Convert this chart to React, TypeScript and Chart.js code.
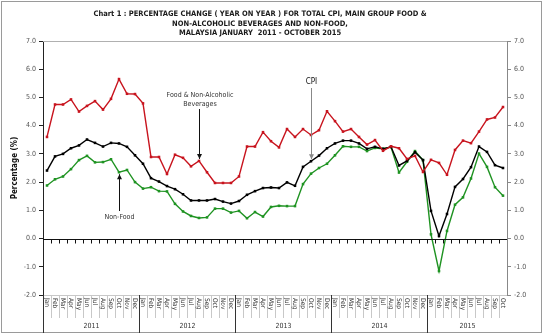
import { useEffect, useRef } from "react";
import { Chart, registerables } from "chart.js";

Chart.register(...registerables);

const monthNames = ["Jan", "Feb", "Mar", "Apr", "May", "Jun", "Jul", "Aug", "Sep", "Oct", "Nov", "Dec"];
const yearLabels = ["2011", "2012", "2013", "2014", "2015"];
const monthsPerYear = [12, 12, 12, 12, 10];

const categories: string[] = [];
yearLabels.forEach((yr, yi) => {
  for (let m = 0; m < monthsPerYear[yi]; m++) categories.push(monthNames[m] + " " + yr);
});

const foodValues = [
  3.6, 4.75, 4.75, 4.93, 4.5, 4.7, 4.87, 4.57, 4.95, 5.65, 5.13, 5.12,
  4.79, 2.89, 2.89, 2.29, 2.97, 2.86, 2.56, 2.75, 2.35, 1.97, 1.97, 1.97,
  2.2, 3.26, 3.26, 3.77, 3.45, 3.23, 3.88, 3.6, 3.88, 3.67, 3.84, 4.51,
  4.16, 3.79, 3.88, 3.6, 3.33, 3.49, 3.11, 3.27, 3.2, 2.82, 2.93, 2.36,
  2.79, 2.68, 2.26, 3.14, 3.47, 3.38, 3.79, 4.22, 4.29, 4.66,
];

const cpiValues = [
  2.41, 2.91, 3.0, 3.2, 3.3, 3.51, 3.39, 3.26, 3.39, 3.37, 3.25, 2.95,
  2.65, 2.14, 2.02, 1.86, 1.75, 1.57, 1.35, 1.35, 1.35, 1.4, 1.31, 1.24,
  1.33, 1.55, 1.68, 1.79, 1.81, 1.79, 1.99, 1.87, 2.54, 2.74, 2.94, 3.2,
  3.37, 3.47, 3.47, 3.37, 3.18, 3.25, 3.18, 3.25, 2.59, 2.75, 3.06, 2.78,
  0.98, 0.09, 0.87, 1.83, 2.11, 2.53, 3.26, 3.07, 2.6, 2.5,
];

const nonFoodValues = [
  1.88, 2.1, 2.2, 2.46, 2.78, 2.93, 2.7, 2.71, 2.81, 2.35, 2.43, 2.0,
  1.77, 1.82, 1.68, 1.67, 1.23, 0.96, 0.8, 0.73, 0.75, 1.06, 1.06, 0.92,
  0.98, 0.72, 0.94, 0.78, 1.12, 1.16, 1.15, 1.15, 1.93, 2.3, 2.5, 2.65,
  2.95, 3.27, 3.25, 3.25, 3.1, 3.21, 3.18, 3.24, 2.34, 2.72, 3.1, 2.78,
  0.15, -1.15, 0.27, 1.2, 1.46, 2.13, 3.01, 2.54, 1.82, 1.52,
];

const titleLines = [
  "Chart 1 : PERCENTAGE CHANGE ( YEAR ON YEAR ) FOR TOTAL CPI, MAIN GROUP FOOD &",
  "NON-ALCOHOLIC BEVERAGES AND NON-FOOD,",
  "MALAYSIA JANUARY  2011 - OCTOBER 2015",
];

const FONT = "'DejaVu Sans Condensed', 'Liberation Sans Narrow', 'DejaVu Sans', sans-serif";

const overlay = {
  id: "overlay",
  afterDraw(chart: any) {
    const ctx = chart.ctx as CanvasRenderingContext2D;
    const a = chart.chartArea;
    const xs = chart.scales.x;
    const ys = chart.scales.y;
    const n = categories.length;
    const px = (i: number) => xs.getPixelForValue(i);
    const step = px(1) - px(0);
    ctx.save();

    // outer border
    ctx.strokeStyle = "#9a9a9a";
    ctx.lineWidth = 1;
    ctx.strokeRect(1.5, 1.5, 540, 331);

    // title
    ctx.fillStyle = "#1a1a1a";
    ctx.textAlign = "center";
    ctx.textBaseline = "middle";
    ctx.font = "bold 7.5px " + FONT;
    const tys = [14, 24, 33.5];
    titleLines.forEach((t, i) => ctx.fillText(t, 260, tys[i]));

    // top line
    ctx.strokeStyle = "#b0b0b0";
    ctx.beginPath();
    ctx.moveTo(a.left, a.top + 0.5);
    ctx.lineTo(a.right, a.top + 0.5);
    ctx.stroke();

    // zero line with ticks
    const y0 = Math.round(ys.getPixelForValue(0)) + 0.5;
    ctx.strokeStyle = "#111";
    ctx.beginPath();
    ctx.moveTo(a.left, y0);
    ctx.lineTo(a.right, y0);
    for (let i = 0; i < n - 1; i++) {
      const xb = Math.round(px(i) + step / 2) + 0.5;
      ctx.moveTo(xb, y0);
      ctx.lineTo(xb, y0 + 4);
    }
    ctx.stroke();

    // bottom table
    const b = a.bottom;
    ctx.strokeStyle = "#c8c8c8";
    ctx.beginPath();
    ctx.moveTo(a.left, b + 0.5);
    ctx.lineTo(a.right, b + 0.5);
    for (let i = 0; i < n - 1; i++) {
      const xb = Math.round(px(i) + step / 2) + 0.5;
      ctx.moveTo(xb, b);
      ctx.lineTo(xb, b + 23);
    }
    ctx.stroke();

    // year separators
    ctx.strokeStyle = "#333";
    ctx.beginPath();
    let idx = 0;
    const bounds: number[] = [Math.round(a.left) + 0.5];
    monthsPerYear.forEach((m) => {
      idx += m;
      const xb = idx < n ? Math.round(px(idx - 1) + step / 2) + 0.5 : Math.round(a.right) + 0.5;
      bounds.push(xb);
    });
    bounds.forEach((xb, i) => {
      if (i === bounds.length - 1) return;
      ctx.moveTo(xb, b);
      ctx.lineTo(xb, 333);
    });
    ctx.stroke();

    // month labels
    ctx.fillStyle = "#333";
    ctx.font = "6.5px " + FONT;
    ctx.textAlign = "left";
    ctx.textBaseline = "middle";
    for (let i = 0; i < n; i++) {
      const lbl = categories[i].split(" ")[0];
      ctx.save();
      ctx.translate(px(i), b + 3);
      ctx.rotate(Math.PI / 2);
      ctx.fillText(lbl, 0, 0);
      ctx.restore();
    }

    // year labels
    ctx.font = "7px " + FONT;
    ctx.textAlign = "center";
    ctx.fillStyle = "#333";
    yearLabels.forEach((yr, i) => {
      ctx.fillText(yr, (bounds[i] + bounds[i + 1]) / 2, 326);
    });

    // y axis title
    ctx.save();
    ctx.translate(15, (a.top + a.bottom) / 2);
    ctx.rotate(-Math.PI / 2);
    ctx.font = "bold 8px " + FONT;
    ctx.fillStyle = "#111";
    ctx.textAlign = "center";
    ctx.textBaseline = "middle";
    ctx.fillText("Percentage (%)", 0, 0);
    ctx.restore();

    // annotations
    const arrow = (x: number, yFrom: number, yTo: number, color: string) => {
      ctx.strokeStyle = color;
      ctx.fillStyle = color;
      ctx.lineWidth = 1;
      ctx.beginPath();
      ctx.moveTo(x, yFrom);
      ctx.lineTo(x, yTo);
      ctx.stroke();
      const dir = yTo > yFrom ? 1 : -1;
      ctx.beginPath();
      ctx.moveTo(x, yTo);
      ctx.lineTo(x - 2.5, yTo - dir * 5);
      ctx.lineTo(x + 2.5, yTo - dir * 5);
      ctx.closePath();
      ctx.fill();
    };
    ctx.font = "7px " + FONT;
    ctx.textAlign = "center";
    ctx.textBaseline = "middle";
    ctx.fillStyle = "#333";
    const xf = Math.round(px(19)) + 0.5;
    ctx.fillText("Food & Non-Alcoholic", 200, 95);
    ctx.fillText("Beverages", 200, 104);
    arrow(xf, 109, ys.getPixelForValue(foodValues[19]) - 2, "#111");
    const xc = Math.round(px(33)) + 0.5;
    ctx.fillStyle = "#111";
    ctx.font = "8px " + FONT;
    ctx.fillText("CPI", xc, 82);
    arrow(xc, 88, ys.getPixelForValue(cpiValues[33]) - 2, "#888");
    const xn = Math.round(px(9)) + 0.5;
    ctx.font = "7px " + FONT;
    ctx.fillStyle = "#333";
    ctx.fillText("Non-Food", xn, 217);
    arrow(xn, 211, ys.getPixelForValue(nonFoodValues[9]) + 2, "#111");

    ctx.restore();
  },
};

export default function App() {
  const ref = useRef<HTMLCanvasElement | null>(null);
  useEffect(() => {
    document.body.style.margin = "0";
    const canvas = ref.current!;
    const yTicks = {
      font: { size: 7, family: FONT },
      color: "#555",
      padding: 3,
      stepSize: 1,
      callback: (v: any) => Number(v).toFixed(1),
    };
    const mk = (label: string, data: number[], color: string) => ({
      label,
      data,
      borderColor: color,
      backgroundColor: color,
      borderWidth: 1.4,
      pointStyle: "rect" as const,
      pointRadius: 1.8,
      pointBorderWidth: 0,
      tension: 0,
    });
    const chart = new Chart(canvas, {
      type: "line",
      data: {
        labels: categories,
        datasets: [
          mk("Food & Non-Alcoholic Beverages", foodValues, "#c8141e"),
          mk("CPI", cpiValues, "#000000"),
          mk("Non-Food", nonFoodValues, "#1f9322"),
        ],
      },
      options: {
        responsive: false,
        animation: false,
        devicePixelRatio: 1,
        layout: { padding: { top: 41, bottom: 40, left: 0, right: 0 } },
        plugins: { legend: { display: false }, title: { display: false }, tooltip: { enabled: false } },
        scales: {
          x: { type: "category", offset: true, display: false },
          y: {
            position: "left",
            min: -2,
            max: 7,
            ticks: yTicks,
            grid: { drawOnChartArea: false, tickLength: 4, color: "#222" },
            border: { color: "#222" },
            afterFit: (s: any) => {
              s.width = 43;
            },
          },
          y2: {
            position: "right",
            min: -2,
            max: 7,
            ticks: yTicks,
            grid: { drawOnChartArea: false, tickLength: 4, color: "#888" },
            border: { color: "#888" },
            afterFit: (s: any) => {
              s.width = 38;
            },
          },
        },
      },
      plugins: [overlay],
    });
    return () => chart.destroy();
  }, []);
  return <canvas ref={ref} width={545} height={335} style={{ display: "block" }} />;
}
